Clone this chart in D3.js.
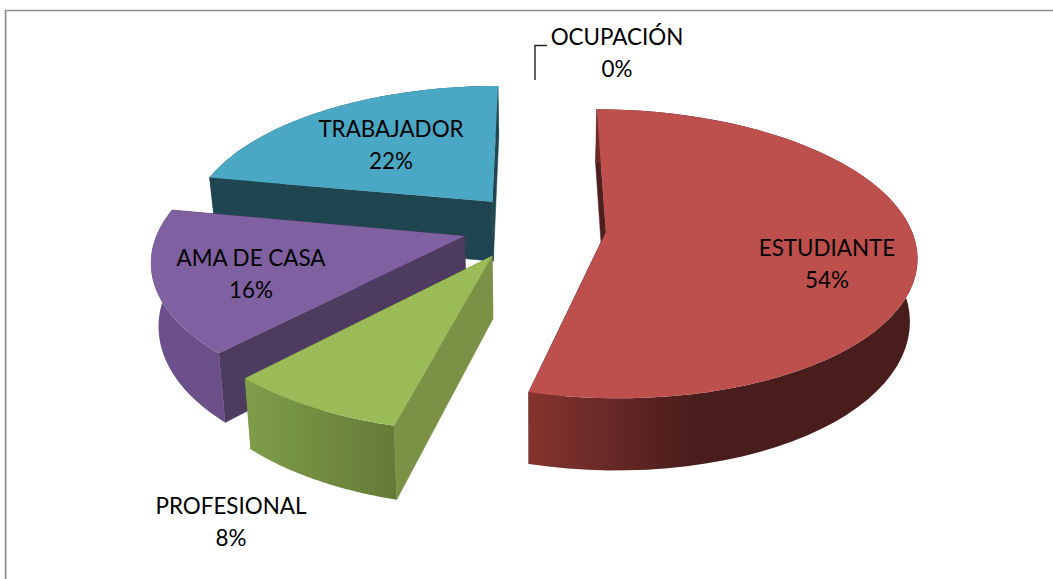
<!DOCTYPE html>
<html><head><meta charset="utf-8">
<script src="https://cdn.jsdelivr.net/npm/d3@7"></script>
<style>html,body{margin:0;padding:0;background:#fff;overflow:hidden}svg{display:block}text{font-family:Lato,"Open Sans",sans-serif;font-size:22.4px;fill:#000;text-anchor:middle}</style>
</head><body><svg id="c" width="1053" height="579"></svg>
<script>
const categories = ["ESTUDIANTE","PROFESIONAL","AMA DE CASA","TRABAJADOR","OCUPACIÓN"];
const seriesValues = [54,8,16,22,0];
const topColors  = ["#bd4f4c","#9bbb59","#7f60a0","#4aa8c4","#4aa8c4"];
const wallColors = ["#4f1f1f","#7a9146","#4d3b60","#1f4650","#1f4650"];
const rimStart   = ["#4a1d1d","#647a36","#6b5088","#1f4650","#1f4650"];
const rimEnd     = ["#84342f","#7f9d4a","#6c4f8c","#1f4650","#1f4650"];
const labelSpots = [[827,248],[231,506],[251,258],[391,129],[617,37]];
const sliceNudge = [[1,1],[-8,0],[-3,-1],[1,-1],[0,0]];

const W=1053,H=579;
const svg=d3.select("#c");
const defs=svg.append("defs");
// Projection of the pie plane (unit radius) to the screen
const cx=535,cy=227,rx=305,ry=140,persp=0.15,explode=0.23,thick=61,shrink=0.98;
const sx=d3.scaleLinear().domain([0,1]).range([0,rx]);
const sy=d3.scaleLinear().domain([0,1]).range([0,ry]);
function project(X,Y,low){
  const s=1/(1-persp*Y);
  let x=sx(X)*s, y=sy(Y)*s;
  if(low){x*=shrink;y+=thick*s;}
  return [cx+x,cy+y];
}
const pie=d3.pie().sort(null).value(d=>d)(seriesValues);
const line=d3.line();
const close=pts=>line(pts)+"Z";

// frame
svg.append("path").attr("d","M5.5,579V10.5H1053").attr("fill","none").attr("stroke","#8c8c8c").attr("stroke-width",1.5);
svg.append("line").attr("x1",6.5).attr("x2",6.5).attr("y1",11).attr("y2",579).attr("stroke","#c8c8c8").attr("stroke-width",1);

const drawOrder=[3,2,1,0];
drawOrder.forEach(i=>{
  const d=pie[i]; if(d.endAngle-d.startAngle<=0) return;
  const mid=(d.startAngle+d.endAngle)/2;
  const ox=Math.sin(mid)*explode, oy=-Math.cos(mid)*explode;
  const angs=d3.range(0,61).map(k=>d.startAngle+(d.endAngle-d.startAngle)*k/60);
  const P=(a,r,low)=>project(ox+r*Math.sin(a),oy-r*Math.cos(a),low);
  const g=svg.append("g").attr("transform",`translate(${sliceNudge[i]})`);
  // radial walls
  [d.endAngle,d.startAngle].forEach(a=>{
    g.append("path").attr("d",close([P(a,1,false),P(a,0,false),P(a,0,true),P(a,1,true)]))
      .attr("fill",wallColors[i]).attr("stroke",wallColors[i]).attr("stroke-width",.5);
  });
  // outer rim
  const gid="rim"+i;
  const lg=defs.append("linearGradient").attr("id",gid).attr("x1","1").attr("x2","0");
  lg.append("stop").attr("offset","0%").attr("stop-color",rimStart[i]);
  if(i===0) lg.append("stop").attr("offset","58%").attr("stop-color",rimStart[i]);
  lg.append("stop").attr("offset","100%").attr("stop-color",rimEnd[i]);
  const rim=angs.map(a=>P(a,1,false)).concat(angs.slice().reverse().map(a=>P(a,1,true)));
  g.append("path").attr("d",close(rim)).attr("fill",`url(#${gid})`);
  // top surface
  const top=[P(0,0,false)].concat(angs.map(a=>P(a,1,false)));
  g.append("path").attr("d",close(top)).attr("fill",topColors[i]);
});

// leader line for the zero slice
svg.append("path").attr("d",d3.line()([[535,80],[535,45.5],[547,45.5]]))
  .attr("fill","none").attr("stroke","#222").attr("stroke-width",1.4);

// labels
categories.forEach((c,i)=>{
  const [x,y]=labelSpots[i];
  svg.append("text").attr("x",x).attr("y",y+8).text(c);
  svg.append("text").attr("x",x).attr("y",y+40).text(seriesValues[i]+"%");
});
</script></body></html>
